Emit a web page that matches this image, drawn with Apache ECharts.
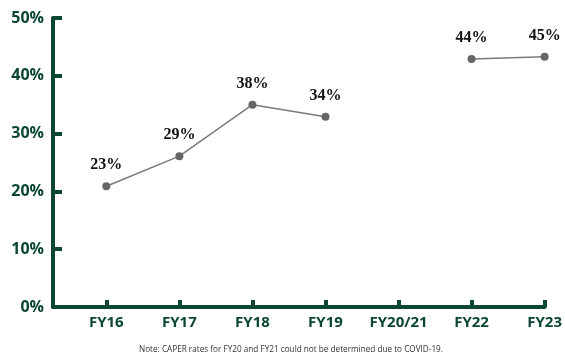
<!DOCTYPE html>
<html lang="en">
<head>
    <meta charset="UTF-8">
    <title>CAPER rates</title>
    <script src="https://cdnjs.cloudflare.com/ajax/libs/echarts/6.0.0/echarts.min.js"></script>
    <style>
        body { margin: 0; background: #fff; }
        #main { width: 565px; height: 364px; }
    </style>
</head>
<body>
    <div id="main"></div>
    <script>
        // categories, plotted values (read from point positions) and the printed labels
        const years = ['FY16', 'FY17', 'FY18', 'FY19', 'FY20/21', 'FY22', 'FY23'];
        const rates = [20.9, 26.1, 35.0, 32.9, null, 42.9, 43.3];
        const rateLabels = ['23%', '29%', '38%', '34%', '', '44%', '45%'];
        const yTicks = [0, 10, 20, 30, 40, 50];

        const green = '#0b4634';
        const chart = echarts.init(document.getElementById('main'));

        const points = rates.map((v, i) => [i, v]);

        const option = {
            animation: false,
            grid: { left: 53, right: 20, top: 18, bottom: 57 },
            xAxis: {
                type: 'value',
                min: -0.73,
                max: years.length - 1,
                splitLine: { show: false },
                axisLine: { show: true, onZero: false, lineStyle: { color: green, width: 4 } },
                axisTick: {
                    show: true, inside: true, length: 7,
                    lineStyle: { color: green, width: 4 },
                    customValues: years.map((y, i) => i)
                },
                axisLabel: {
                    customValues: years.map((y, i) => i),
                    formatter: v => years[Math.round(v)] || '',
                    color: green,
                    fontFamily: 'Open Sans',
                    fontWeight: 'bold',
                    fontSize: 15,
                    margin: 8
                }
            },
            yAxis: {
                type: 'value',
                min: 0,
                max: 50,
                interval: 10,
                splitLine: { show: false },
                axisLine: { show: true, onZero: false, lineStyle: { color: green, width: 4 } },
                axisTick: {
                    show: true, inside: true, length: 9,
                    lineStyle: { color: green, width: 4 }
                },
                axisLabel: {
                    formatter: v => yTicks.includes(v) ? v + '%' : '',
                    color: green,
                    fontFamily: 'Open Sans',
                    fontWeight: 'bold',
                    fontSize: 16,
                    margin: 9
                }
            },
            series: [{
                type: 'line',
                data: points,
                connectNulls: false,
                symbol: 'circle',
                symbolSize: 8,
                itemStyle: { color: '#666' },
                lineStyle: { color: '#7a7a7a', width: 1.5 },
                label: {
                    show: true,
                    position: 'top',
                    distance: 9,
                    formatter: p => rateLabels[p.dataIndex],
                    color: '#111',
                    fontFamily: 'Liberation Serif',
                    fontWeight: 'bold',
                    fontSize: 16
                }
            }],
            title: {
                text: 'Note: CAPER rates for FY20 and FY21 could not be determined due to COVID-19.',
                left: 134,
                bottom: 5,
                textStyle: {
                    fontFamily: 'Open Sans',
                    fontWeight: 'normal',
                    fontSize: 8.2,
                    color: '#333'
                }
            }
        };

        chart.setOption(option);
    </script>
</body>
</html>
